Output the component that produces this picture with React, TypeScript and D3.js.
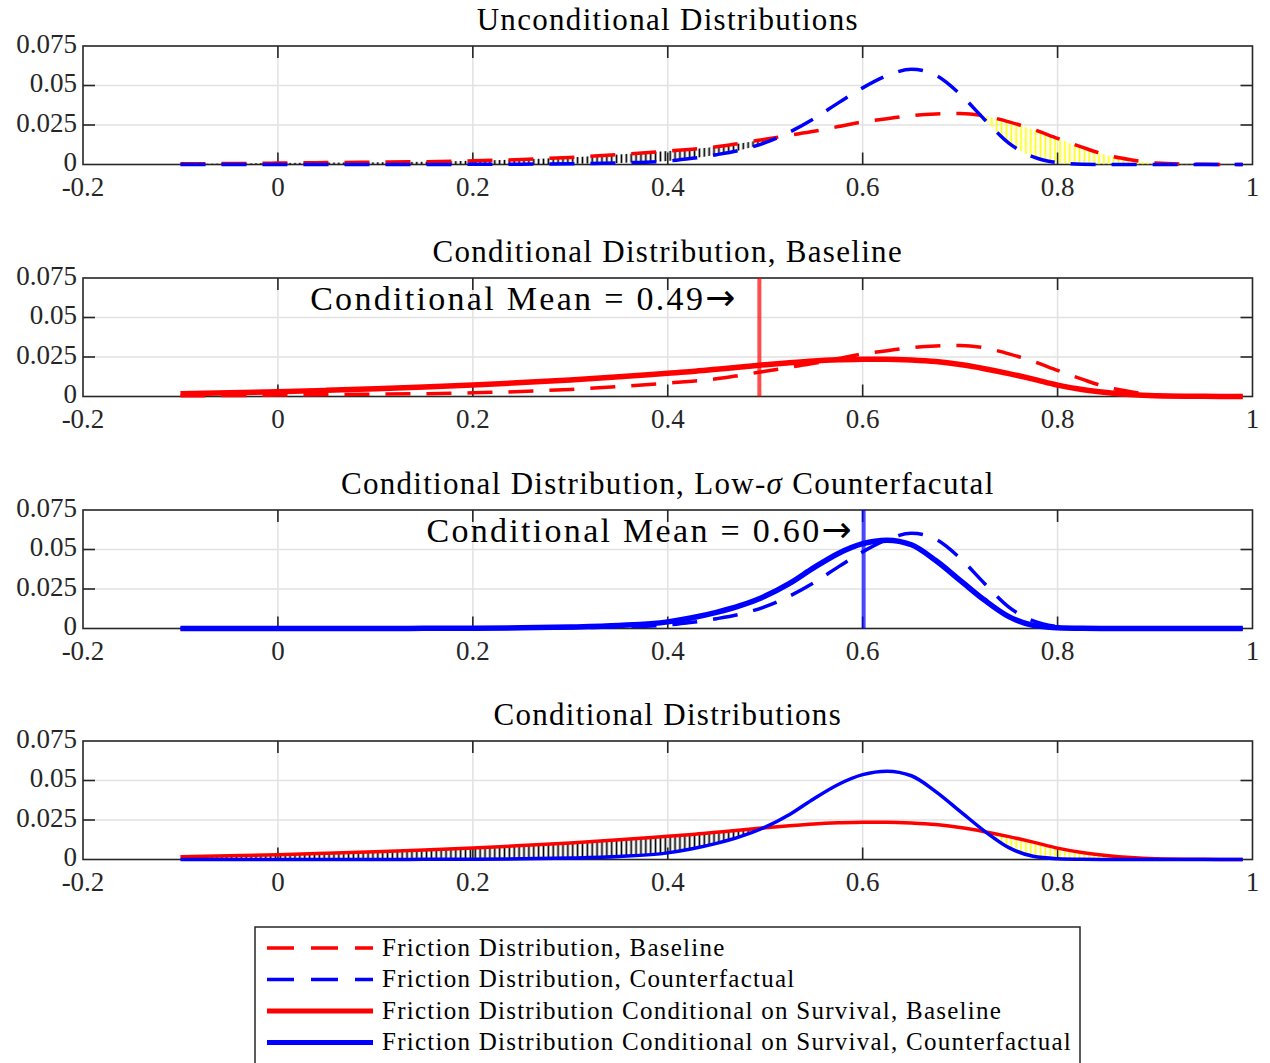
import React, { useEffect, useRef } from 'react';
import * as d3 from 'd3';

// friction grid (x) and the four densities
const xGrid = [
  -0.1, -0.05, 0, 0.05, 0.1, 0.15, 0.2, 0.25, 0.3, 0.35, 0.4, 0.425, 0.45, 0.475, 0.5,
  0.525, 0.55, 0.575, 0.6, 0.625, 0.65, 0.675, 0.7, 0.725, 0.75, 0.775, 0.8, 0.825,
  0.85, 0.875, 0.9, 0.95, 0.99
];

const baselineDensity = [
  0.0004, 0.0006, 0.0009, 0.0012, 0.0015, 0.0018, 0.0023, 0.0032, 0.0045, 0.0063, 0.0085,
  0.0097, 0.0112, 0.0135, 0.016, 0.0185, 0.021, 0.024, 0.027, 0.029, 0.031, 0.032, 0.0323,
  0.0308, 0.027, 0.0222, 0.0165, 0.011, 0.006, 0.003, 0.001, 0.0001, 0
];

const counterfactualDensity = [
  0, 0, 0, 0, 0, 0, 0.0001, 0.0002, 0.0005, 0.001, 0.0022, 0.0039, 0.0062, 0.0092, 0.0138,
  0.0205, 0.029, 0.039, 0.0485, 0.0562, 0.0603, 0.0565, 0.0445, 0.0285, 0.0135, 0.0048,
  0.0012, 0.0002, 0, 0, 0, 0, 0
];

const baselineConditional = [
  0.0017, 0.0023, 0.003, 0.0039, 0.0049, 0.006, 0.0073, 0.0088, 0.0105, 0.0125, 0.0147,
  0.0158, 0.0172, 0.0186, 0.0201, 0.0214, 0.0225, 0.0232, 0.0236, 0.0236, 0.0231, 0.0221,
  0.0202, 0.0176, 0.0145, 0.011, 0.0072, 0.0044, 0.0025, 0.0012, 0.0005, 0.0001, 0
];

const counterfactualConditional = [
  0, 0, 0, 0, 0, 0.0001, 0.0002, 0.0004, 0.0009, 0.0019, 0.0042, 0.0068, 0.0102, 0.0146, 0.0205,
  0.0285, 0.0385, 0.0475, 0.0537, 0.0559, 0.053, 0.043, 0.0305, 0.018, 0.0075, 0.002,
  0.0005, 0.0001, 0, 0, 0, 0, 0
];

// conditional means (vertical markers) and how far left of each marker its label ends
const meanBaseline = 0.494;
const meanCounterfactual = 0.601;
const meanLabelGap = [24, 12];

const panelTitles = [
  'Unconditional Distributions',
  'Conditional Distribution, Baseline',
  'Conditional Distribution, Low-',
  'Conditional Distributions'
];

const xTicks = [-0.2, 0, 0.2, 0.4, 0.6, 0.8, 1];
const xTickLabels = ['-0.2', '0', '0.2', '0.4', '0.6', '0.8', '1'];
const yTicks = [0, 0.025, 0.05, 0.075];
const yTickLabels = ['0', '0.025', '0.05', '0.075'];

const legendLabels = [
  'Friction Distribution, Baseline',
  'Friction Distribution, Counterfactual',
  'Friction Distribution Conditional on Survival, Baseline',
  'Friction Distribution Conditional on Survival, Counterfactual'
];

const WIDTH = 1270;
const HEIGHT = 1063;
const PLOT_LEFT = 83;
const PLOT_RIGHT = 1252.5;
const PANEL_TOPS = [46, 278, 510, 741];
const PANEL_H = 118.5;
const FONT = 'Liberation Serif, DejaVu Serif, serif';
const RED = '#ff0000';
const BLUE = '#0000ff';
const AXIS = '#262626';
const GRID = '#e2e2e2';
const DASH = '25 16';

const App: React.FC = () => {
  const svgRef = useRef<SVGSVGElement>(null);

  useEffect(() => {
    const svg = d3.select(svgRef.current);
    svg.selectAll('*').remove();

    const x = d3.scaleLinear().domain([-0.2, 1]).range([PLOT_LEFT, PLOT_RIGHT]);
    const defs = svg.append('defs');

    // vertical hatch patterns (stems between curves)
    const step = x(0.005) - x(0);
    const makePattern = (id: string, color: string) => {
      const p = defs.append('pattern')
        .attr('id', id)
        .attr('patternUnits', 'userSpaceOnUse')
        .attr('x', x(-0.1))
        .attr('y', 0)
        .attr('width', step)
        .attr('height', 10);
      p.append('line')
        .attr('x1', step / 2).attr('x2', step / 2)
        .attr('y1', 0).attr('y2', 10)
        .attr('stroke', color)
        .attr('stroke-width', 1.7);
    };
    makePattern('hatch-black', '#000000');
    makePattern('hatch-yellow', '#ffff00');

    const splitIdx = xGrid.indexOf(0.6);

    const txt = (sel: d3.Selection<SVGTextElement, any, any, any>, size: number, spacing = 0) =>
      sel.attr('font-family', FONT)
        .attr('font-size', size)
        .attr('letter-spacing', spacing)
        .attr('fill', '#000');

    PANEL_TOPS.forEach((top, p) => {
      const bottom = top + PANEL_H;
      const y = d3.scaleLinear().domain([0, 0.075]).range([bottom, top]);
      const g = svg.append('g');

      const line = (vals: number[]) =>
        d3.line<number>()
          .x((_, i) => x(xGrid[i]))
          .y(d => y(d))
          .curve(d3.curveMonotoneX)(vals);

      // grid
      g.selectAll('.vgrid')
        .data(xTicks.slice(1, -1))
        .enter()
        .append('line')
        .attr('x1', d => x(d)).attr('x2', d => x(d))
        .attr('y1', top).attr('y2', bottom)
        .attr('stroke', GRID).attr('stroke-width', 1.5);
      g.selectAll('.hgrid')
        .data(yTicks.slice(1, -1))
        .enter()
        .append('line')
        .attr('x1', PLOT_LEFT).attr('x2', PLOT_RIGHT)
        .attr('y1', d => y(d)).attr('y2', d => y(d))
        .attr('stroke', GRID).attr('stroke-width', 1.5);

      // box
      g.append('rect')
        .attr('x', PLOT_LEFT).attr('y', top)
        .attr('width', PLOT_RIGHT - PLOT_LEFT).attr('height', PANEL_H)
        .attr('fill', 'none').attr('stroke', AXIS).attr('stroke-width', 1.6);

      // ticks (inside, all four sides)
      const tl = 12;
      xTicks.slice(1, -1).forEach(t => {
        g.append('line').attr('x1', x(t)).attr('x2', x(t)).attr('y1', bottom).attr('y2', bottom - tl)
          .attr('stroke', AXIS).attr('stroke-width', 1.6);
        g.append('line').attr('x1', x(t)).attr('x2', x(t)).attr('y1', top).attr('y2', top + tl)
          .attr('stroke', AXIS).attr('stroke-width', 1.6);
      });
      yTicks.slice(1, -1).forEach(t => {
        g.append('line').attr('x1', PLOT_LEFT).attr('x2', PLOT_LEFT + tl).attr('y1', y(t)).attr('y2', y(t))
          .attr('stroke', AXIS).attr('stroke-width', 1.6);
        g.append('line').attr('x1', PLOT_RIGHT).attr('x2', PLOT_RIGHT - tl).attr('y1', y(t)).attr('y2', y(t))
          .attr('stroke', AXIS).attr('stroke-width', 1.6);
      });

      // tick labels
      g.selectAll('.xlab')
        .data(xTicks)
        .enter()
        .append('text')
        .attr('x', d => x(d))
        .attr('y', bottom + 31)
        .attr('text-anchor', 'middle')
        .call(s => txt(s as any, 27))
        .attr('fill', AXIS)
        .text((_, i) => xTickLabels[i]);
      g.selectAll('.ylab')
        .data(yTicks)
        .enter()
        .append('text')
        .attr('x', 77)
        .attr('y', d => y(d) + 6.5)
        .attr('text-anchor', 'end')
        .call(s => txt(s as any, 27))
        .attr('fill', AXIS)
        .text((_, i) => yTickLabels[i]);

      // title
      const title = g.append('text')
        .attr('x', (PLOT_LEFT + PLOT_RIGHT) / 2)
        .attr('y', top - 16)
        .attr('text-anchor', 'middle')
        .call(s => txt(s, 31, 1.3))
        .text(panelTitles[p]);
      if (p === 2) {
        title.append('tspan').attr('font-style', 'italic').text('σ');
        title.append('tspan').text(' Counterfacutal');
      }

      // hatch between two curves where upper > lower
      const hatch = (upper: number[], lower: number[]) => {
        const clipId = `above-lower-${p}`;
        defs.append('clipPath')
          .attr('id', clipId)
          .append('path')
          .attr('d', d3.area<number>()
            .x((_, i) => x(xGrid[i]))
            .y0(d => y(d))
            .y1(top)
            .curve(d3.curveMonotoneX)(lower));
        const under = (lo: number, hi: number) =>
          d3.area<number>()
            .x((_, i) => x(xGrid[i + lo]))
            .y0(bottom)
            .y1(d => y(d))
            .curve(d3.curveMonotoneX)(upper.slice(lo, hi));
        g.append('path')
          .attr('d', under(0, splitIdx + 1))
          .attr('fill', 'url(#hatch-black)')
          .attr('clip-path', `url(#${clipId})`);
        g.append('path')
          .attr('d', under(splitIdx, xGrid.length))
          .attr('fill', 'url(#hatch-yellow)')
          .attr('clip-path', `url(#${clipId})`);
      };

      const curve = (vals: number[], color: string, width: number, dashed: boolean) => {
        g.append('path')
          .attr('d', line(vals))
          .attr('fill', 'none')
          .attr('stroke', color)
          .attr('stroke-width', width)
          .attr('stroke-dasharray', dashed ? DASH : null);
      };

      const meanLine = (m: number, color: string, gap: number) => {
        g.append('line')
          .attr('x1', x(m)).attr('x2', x(m))
          .attr('y1', top).attr('y2', bottom)
          .attr('stroke', color)
          .attr('stroke-opacity', 0.7)
          .attr('stroke-width', 4);
        const t = g.append('text')
          .attr('x', x(m) - gap)
          .attr('y', top + 32)
          .attr('text-anchor', 'end')
          .call(s => txt(s, 34, 2.3))
          .text(`Conditional Mean = ${d3.format('.2f')(m)}`);
        t.append('tspan')
          .attr('font-family', 'DejaVu Sans, sans-serif')
          .attr('font-size', 36)
          .attr('letter-spacing', 0)
          .attr('dy', 0)
          .text('\u2192');
      };

      if (p === 0) {
        hatch(baselineDensity, counterfactualDensity);
        curve(baselineDensity, RED, 3.5, true);
        curve(counterfactualDensity, BLUE, 3.5, true);
      } else if (p === 1) {
        curve(baselineDensity, RED, 3.5, true);
        curve(baselineConditional, RED, 5.5, false);
        meanLine(meanBaseline, RED, meanLabelGap[0]);
      } else if (p === 2) {
        curve(counterfactualDensity, BLUE, 3.5, true);
        curve(counterfactualConditional, BLUE, 5.5, false);
        meanLine(meanCounterfactual, BLUE, meanLabelGap[1]);
      } else {
        hatch(baselineConditional, counterfactualConditional);
        curve(baselineConditional, RED, 3.5, false);
        curve(counterfactualConditional, BLUE, 3.5, false);
      }
    });

    // legend
    const lg = svg.append('g');
    lg.append('rect')
      .attr('x', 255).attr('y', 927)
      .attr('width', 825).attr('height', 140)
      .attr('fill', '#fff').attr('stroke', AXIS).attr('stroke-width', 1.5);
    const legendStyles = [
      { color: RED, dashed: true },
      { color: BLUE, dashed: true },
      { color: RED, dashed: false },
      { color: BLUE, dashed: false }
    ];
    legendLabels.forEach((label, i) => {
      const cy = 948 + i * 31.5;
      lg.append('line')
        .attr('x1', 267).attr('x2', 373)
        .attr('y1', cy).attr('y2', cy)
        .attr('stroke', legendStyles[i].color)
        .attr('stroke-width', legendStyles[i].dashed ? 3.5 : 5)
        .attr('stroke-dasharray', legendStyles[i].dashed ? '27 17' : null);
      lg.append('text')
        .attr('x', 382)
        .attr('y', cy + 7.5)
        .call(s => txt(s, 25, 1.25))
        .text(label);
    });
  }, []);

  return (
    <svg
      ref={svgRef}
      width={WIDTH}
      height={HEIGHT}
      style={{ position: 'absolute', left: 0, top: 0, background: '#fff', display: 'block' }}
    />
  );
};

export default App;
